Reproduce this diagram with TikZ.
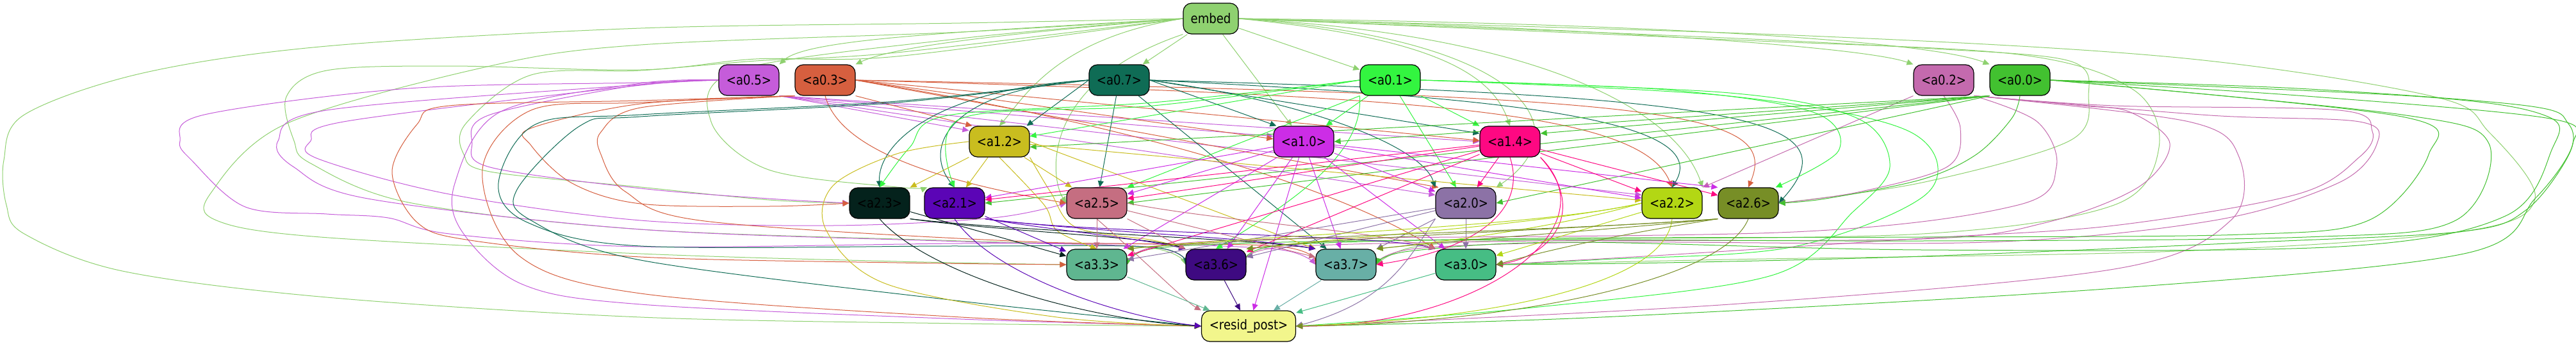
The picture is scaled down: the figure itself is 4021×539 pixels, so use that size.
\documentclass[tikz,border=0pt]{standalone}
\usepackage{fontspec}
\setmainfont{DejaVu Sans}[FakeStretch=0.86]
\usetikzlibrary{arrows.meta}
\pgfdeclarelayer{bg}
\pgfsetlayers{bg,main}
\definecolor{cem}{HTML}{8FD170}
\definecolor{c05}{HTML}{C55CDA}
\definecolor{c03}{HTML}{D65F3F}
\definecolor{c07}{HTML}{0F6C55}
\definecolor{c01}{HTML}{33F540}
\definecolor{c02}{HTML}{C46AAE}
\definecolor{c00}{HTML}{42C130}
\definecolor{c12}{HTML}{C9BD1F}
\definecolor{c10}{HTML}{CC2DE6}
\definecolor{c14}{HTML}{FE0882}
\definecolor{c23}{HTML}{04221C}
\definecolor{c21}{HTML}{5B05B6}
\definecolor{c25}{HTML}{C56E81}
\definecolor{c20}{HTML}{8C72A6}
\definecolor{c22}{HTML}{B3D714}
\definecolor{c26}{HTML}{778E26}
\definecolor{c33}{HTML}{5FB690}
\definecolor{c36}{HTML}{3E0A81}
\definecolor{c37}{HTML}{68AFA6}
\definecolor{c30}{HTML}{46BD84}
\definecolor{cres}{HTML}{F2F68C}
\newcommand\eS[3]{\draw[e,#1] (#2) -- (#3);}
\newcommand\eP[2]{\draw[e,#1] plot[smooth,tension=0.55] coordinates {#2};}
\newcommand\eC[5]{\draw[e,#1] (#2) .. controls (#3) and (#4) .. (#5);}
\begin{document}
\begin{tikzpicture}[x=1pt,y=-1pt,
  e/.style={-{Triangle[length=10pt,width=9pt]}, line width=1pt},
  nd/.style={draw=black, line width=1.2pt, rounded corners=13pt, minimum width=94pt,
    minimum height=48pt, inner sep=0pt, font=\fontsize{21}{21}\selectfont}]
\useasboundingbox (0,0) rectangle (4021,539);
% nodes
\node[nd,fill=cem,minimum width=86pt] (em) at (1890,29) {embed};
\node[nd,fill=c05] (a05) at (1169,125) {<a0.5>};
\node[nd,fill=c03] (a03) at (1288,125) {<a0.3>};
\node[nd,fill=c07] (a07) at (1747,125) {<a0.7>};
\node[nd,fill=c01] (a01) at (2170,125) {<a0.1>};
\node[nd,fill=c02] (a02) at (3034,125) {<a0.2>};
\node[nd,fill=c00] (a00) at (3153,125) {<a0.0>};
\node[nd,fill=c12] (a12) at (1560,221) {<a1.2>};
\node[nd,fill=c10] (a10) at (2035,221) {<a1.0>};
\node[nd,fill=c14] (a14) at (2357,221) {<a1.4>};
\node[nd,fill=c23] (a23) at (1373,317) {<a2.3>};
\node[nd,fill=c21] (a21) at (1490,317) {<a2.1>};
\node[nd,fill=c25] (a25) at (1712,317) {<a2.5>};
\node[nd,fill=c20] (a20) at (2288,317) {<a2.0>};
\node[nd,fill=c22] (a22) at (2610,317) {<a2.2>};
\node[nd,fill=c26] (a26) at (2729,317) {<a2.6>};
\node[nd,fill=c33] (a33) at (1712,413) {<a3.3>};
\node[nd,fill=c36] (a36) at (1898,413) {<a3.6>};
\node[nd,fill=c37] (a37) at (2101,413) {<a3.7>};
\node[nd,fill=c30] (a30) at (2288,413) {<a3.0>};
\node[nd,fill=cres,minimum width=147pt] (res) at (1949,509) {<resid\_post>};
\begin{pgfonlayer}{bg}
\fill[white] (0,0) rectangle (4021,539);
% ---- embed
\eC{cem}{em.west}{1500,50}{1260,60}{a05.north east}
\eC{cem}{em.west}{1600,50}{1400,70}{a03.north east}
\eS{cem}{em}{a07}
\eS{cem}{em}{a01}
\eC{cem}{em.east}{2400,40}{2900,70}{a02.north west}
\eC{cem}{em.east}{2500,35}{3000,60}{a00.north west}
\eC{cem}{em.west}{1650,60}{1600,150}{a12.north}
\eS{cem}{em}{a10}
\eC{cem}{em.east}{2250,60}{2330,120}{a14.north}
\eC{cem}{em.east}{2380,60}{2470,200}{a20.north east}
\eC{cem}{em.east}{2420,55}{2620,180}{a22.north east}
\eP{cem}{(em.west) (1500,60) (1150,110) (1110,190) (1200,265) (1400,292) (a21.150)}
\eP{cem}{(em.west) (1400,82) (1180,95) (1000,110) (829,117) (727,193) (724,241) (765,268) (1000,292) (1200,312) (a23.west)}
\eC{cem}{em.south west}{1620,130}{1640,280}{a25.west}
\eP{cem}{(em.east) (2600,55) (3000,75) (3230,95) (3260,150) (3230,220) (3000,285) (a26.east)}
\eP{cem}{(em.west) (1500,50) (1000,70) (765,103) (447,193) (330,300) (338,344) (500,370) (1000,396) (1400,408) (a33.west)}
\eP{cem}{(em.west) (1400,88) (1180,92) (1000,109) (701,103) (510,110) (447,151) (459,220) (485,255) (638,316) (1000,358) (1500,376) (1790,386) (a36.west)}
\eP{cem}{(em.east) (2700,62) (3150,85) (3330,140) (3370,230) (3300,320) (3000,365) (2400,374) (2210,385) (a37.east)}
\eP{cem}{(em.east) (2800,55) (3400,90) (3800,151) (3885,206) (3957,310) (3846,361) (3400,392) (2700,405) (a30.east)}
\eP{cem}{(em.west) (1500,36) (1000,44) (510,72) (223,114) (38,179) (6,250) (10,320) (38,365) (191,423) (510,464) (1000,495) (1500,505) (res.west)}
% ---- a0.5
\eS{c05}{a05.south east}{a12.160}
\eS{c05}{a05.south east}{a10.170}
\eS{c05}{a05.south east}{a14.west}
\eS{c05}{a05.south east}{a20.165}
\eS{c05}{a05.south east}{a22.165}
\eP{c05}{(a05.west) (1000,129) (638,138) (319,179) (281,220) (300,251) (383,323) (510,334) (606,340) (702,365) (1000,385) (1500,380) (1800,381) (2000,390) (a37.west)}
\eP{c05}{(a05.west) (1000,132) (510,172) (434,220) (459,261) (574,310) (1000,358) (1500,377) (1800,386) (a36.west)}
\eP{c05}{(a05.west) (1000,133) (542,189) (485,220) (497,248) (701,303) (1000,344) (1300,352) (1550,340) (a25.west)}
\eP{c05}{(a05.west) (1000,132) (765,179) (737,224) (765,261) (1000,294) (1200,310) (a23.west)}
\eP{c05}{(a05.west) (1000,130) (780,175) (710,286) (721,361) (816,444) (1000,475) (1500,498) (res.west)}
% ---- a0.3
\eS{c03}{a03.south east}{a12.150}
\eS{c03}{a03.east}{a10.175}
\eS{c03}{a03.east}{a14.178}
\eC{c03}{a03.south}{1310,230}{1450,280}{a25.west}
\eS{c03}{a03.east}{a20.150}
\eC{c03}{a03.east}{2200,150}{2560,170}{a22.north}
\eC{c03}{a03.east}{2600,150}{2780,170}{a26.north}
\eC{c03}{a03.east}{1800,200}{2100,300}{a30.north west}
\eP{c03}{(a03.south west) (1000,157) (701,165) (651,194) (612,268) (651,347) (734,375) (1000,401) (1400,410) (a33.west)}
\eP{c03}{(a03.south west) (1000,160) (829,172) (753,265) (810,399) (1000,458) (1500,495) (res.west)}
\eP{c03}{(a03.south west) (1000,162) (829,200) (829,227) (893,286) (1000,318) (1200,322) (a23.west)}
\eP{c03}{(a03.south west) (1000,168) (938,206) (938,241) (976,299) (1100,345) (1600,377) (1990,384) (a37.west)}
% ---- a0.7
\eS{c07}{a07.west}{a12.30}
\eS{c07}{a07.east}{a10.150}
\eS{c07}{a07.east}{a14.165}
\eC{c07}{a07.west}{1450,140}{1370,230}{a23.north}
\eC{c07}{a07.west}{1480,140}{1440,230}{a21.north}
\eS{c07}{a07}{a25}
\eC{c07}{a07.east}{2050,160}{2220,230}{a20.north west}
\eC{c07}{a07.east}{2300,150}{2680,180}{a22.north}
\eC{c07}{a07.east}{2700,150}{2900,180}{a26.east}
\eS{c07}{a07}{a37}
\eP{c07}{(a07.west) (1400,158) (1000,179) (836,194) (778,286) (823,347) (1000,384) (1500,384) (1800,386) (a36.west)}
\eP{c07}{(a07.west) (1400,160) (1000,182) (906,196) (807,296) (829,344) (1000,406) (1500,470) (res.west)}
% ---- a0.1
\eS{c01}{a01.west}{a12.10}
\eS{c01}{a01}{a10}
\eS{c01}{a01}{a14}
\eP{c01}{(a01.west) (1800,160) (1480,180) (1420,230) (a23.north)}
\eP{c01}{(a01.west) (1800,165) (1500,185) (a21.north)}
\eS{c01}{a01.south west}{a25.north east}
\eS{c01}{a01}{a20}
\eP{c01}{(a01.east) (2600,140) (2830,175) (2870,235) (a26.30)}
\eC{c01}{a01.south west}{2130,250}{1990,330}{a36.north}
\eP{c01}{(a01.east) (2700,150) (2980,205) (3010,300) (2800,385) (2500,405) (a30.east)}
\eP{c01}{(a01.east) (2700,145) (2900,185) (2950,260) (2893,330) (2765,430) (2383,481) (res.east)}
% ---- a0.2
\eS{c02}{a02.south west}{a22.north east}
\eP{c02}{(a02.south) (3060,200) (3040,260) (2900,300) (a26.east)}
\eP{c02}{(a02.south east) (3300,165) (3651,172) (3703,205) (3683,245) (3586,303) (3300,352) (3000,372) (2600,398) (a30.east)}
\eP{c02}{(a02.south east) (3450,180) (3683,190) (3710,225) (3651,285) (3456,344) (3100,378) (2500,378) (2210,388) (a37.east)}
\eP{c02}{(a02.south east) (3250,165) (3325,175) (3387,224) (3338,292) (3195,347) (3000,373) (2400,376) (2000,386) (a36.east)}
\eP{c02}{(a02.south east) (3180,190) (3210,260) (3150,320) (2800,362) (2000,373) (1800,386) (a33.east)}
\eP{c02}{(a02.south east) (3417,190) (3495,245) (3482,344) (3300,420) (2700,475) (res.east)}
% ---- a0.0
\eS{c00}{a00.south west}{a12.-10}
\eS{c00}{a00.south west}{a10.east}
\eS{c00}{a00.south west}{a14.15}
\eS{c00}{a00.south west}{a21.east}
\eS{c00}{a00.south west}{a25.east}
\eS{c00}{a00.south west}{a20.east}
\eP{c00}{(a00.south) (3140,185) (3085,241) (3000,280) (2850,310) (a26.east)}
\eP{c00}{(a00.east) (3586,138) (3944,165) (4009,193) (4010,241) (3944,327) (3846,361) (3521,378) (3000,400) (2600,410) (a30.east)}
\eP{c00}{(a00.east) (3781,151) (3977,182) (3983,234) (3911,337) (3651,385) (3000,390) (2450,378) (2200,392) (a37.east)}
\eP{c00}{(a00.east) (3749,179) (3885,224) (3833,344) (3600,370) (3000,376) (2400,374) (2000,378) (1800,388) (a33.east)}
\eP{c00}{(a00.east) (3749,182) (3791,241) (3697,344) (3500,366) (3000,370) (2400,372) (2000,383) (a36.east)}
\eP{c00}{(a00.east) (3600,150) (3980,185) (4016,224) (3957,310) (3846,396) (3300,450) (2500,495) (res.east)}
% ---- a1.2
\eS{c12}{a12}{a23}
\eS{c12}{a12}{a21}
\eS{c12}{a12}{a25}
\eS{c12}{a12}{a22}
\eS{c12}{a12.east}{a37.north west}
\eP{c12}{(a12.south) (1630,320) (1650,360) (a33.north)}
\eP{c12}{(a12.south east) (1640,300) (1680,355) (1800,375) (a36.north west)}
\eP{c12}{(a12.west) (1400,240) (1300,290) (1290,360) (1383,443) (1650,495) (res.west)}
% ---- a1.0
\eS{c10}{a10}{a21}
\eS{c10}{a10}{a25}
\eS{c10}{a10}{a20}
\eS{c10}{a10}{a22}
\eS{c10}{a10}{a26.north west}
\eS{c10}{a10}{a33}
\eS{c10}{a10}{a36}
\eS{c10}{a10}{a37}
\eS{c10}{a10}{a30}
\eS{c10}{a10}{res}
% ---- a1.4
\eS{c14}{a14}{a21}
\eS{c14}{a14}{a25}
\eS{c14}{a14}{a20}
\eS{c14}{a14}{a22}
\eS{c14}{a14}{a26}
\eS{c14}{a14}{a33}
\eS{c14}{a14}{a36}
\eC{c14}{a14.south}{2385,330}{2300,390}{a37.east}
\eC{c14}{a14.south east}{2480,330}{2420,400}{a30.east}
\eC{c14}{a14.south east}{2520,360}{2300,510}{res.east}
% ---- row 2
\eS{c23}{a23}{a33}
\eC{c23}{a23.south east}{1550,360}{1800,370}{a36.north west}
\eC{c23}{a23.south east}{1600,362}{1950,372}{a37.north west}
\eC{c23}{a23.south}{1450,430}{1700,500}{res.west}
\eS{c21}{a21}{a33}
\eC{c21}{a21.south east}{1650,360}{1780,372}{a36.north west}
\eC{c21}{a21.south east}{1700,362}{1950,370}{a37.north west}
\eC{c21}{a21.south east}{1700,365}{2150,365}{a30.north west}
\eC{c21}{a21.south}{1550,430}{1750,495}{res.west}
\eS{c25}{a25}{a33}
\eS{c25}{a25}{a36}
\eS{c25}{a25}{a37}
\eC{c25}{a25.east}{1900,345}{2150,360}{a30.north west}
\eC{c25}{a25.south}{1790,410}{1850,470}{res.north west}
\eS{c20}{a20}{a33}
\eS{c20}{a20}{a36}
\eS{c20}{a20}{a37}
\eS{c20}{a20}{a30}
\eC{c20}{a20.south west}{2200,400}{2170,470}{res.east}
\eS{c22}{a22}{a30}
\eC{c22}{a22.west}{2450,350}{2300,372}{a37.north east}
\eC{c22}{a22.west}{2400,352}{2100,370}{a36.north east}
\eC{c22}{a22.west}{2400,355}{1950,368}{a33.north east}
\eC{c22}{a22.south}{2600,450}{2300,500}{res.east}
\eC{c26}{a26.south west}{2500,370}{2400,395}{a30.east}
\eC{c26}{a26.south west}{2500,360}{2300,372}{a37.north east}
\eC{c26}{a26.south west}{2450,358}{2100,370}{a36.north east}
\eC{c26}{a26.south west}{2450,360}{1950,370}{a33.north east}
\eC{c26}{a26.south}{2690,440}{2350,505}{res.east}
% ---- row 3
\eS{c33}{a33}{res}
\eS{c36}{a36}{res}
\eS{c37}{a37}{res}
\eS{c30}{a30}{res}
\end{pgfonlayer}
\end{tikzpicture}
\end{document}
